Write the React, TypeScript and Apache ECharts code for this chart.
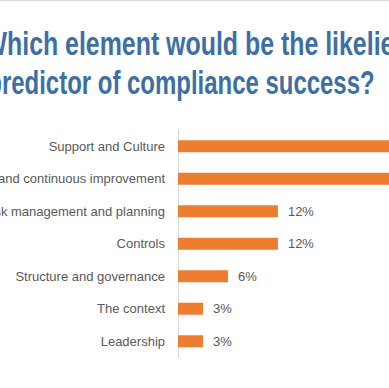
import React, { useEffect, useRef } from "react";
import * as echarts from "echarts";

const titleLines = ["Which element would be the likeliest", "predictor of compliance success?"];
const categories = [
  "Support and Culture",
  "Monitoring and continuous improvement",
  "Risk management and planning",
  "Controls",
  "Structure and governance",
  "The context",
  "Leadership",
];
const values = [35, 29, 12, 12, 6, 3, 3];

const OX = 60; // hidden margin on the left of the visible window
const INNER_W = 589;

export default function App() {
  const ref = useRef<HTMLDivElement>(null);
  useEffect(() => {
    if (!ref.current) return;
    const chart = echarts.init(ref.current, null, { renderer: "svg" });
    chart.setOption({
      animation: false,
      backgroundColor: "#ffffff",
      graphic: [
        {
          type: "line",
          shape: { x1: OX, y1: 0.5, x2: OX + 389, y2: 0.5 },
          style: { stroke: "#dcdcdc", lineWidth: 1.5 },
        },
        {
          type: "text",
          x: OX - 16.5,
          y: 43.6,
          scaleX: 0.755,
          style: {
            text: titleLines[0],
            fill: "#3D6FA6",
            fontSize: 33,
            fontWeight: "bold",
            fontFamily: "Liberation Sans",
            verticalAlign: "middle",
            align: "left",
          },
        },
        {
          type: "text",
          x: OX - 12.7,
          y: 82.6,
          scaleX: 0.726,
          style: {
            text: titleLines[1],
            fill: "#3D6FA6",
            fontSize: 33,
            fontWeight: "bold",
            fontFamily: "Liberation Sans",
            verticalAlign: "middle",
            align: "left",
          },
        },
      ],
      grid: {
        left: OX + 178,
        right: INNER_W - (OX + 178) - 333,
        top: 130,
        bottom: 30.5,
        containLabel: false,
        outerBoundsMode: "none",
      },
      xAxis: {
        type: "value",
        min: 0,
        max: 40,
        show: false,
        splitLine: { show: false },
      },
      yAxis: {
        type: "category",
        inverse: true,
        data: categories,
        axisTick: { show: false },
        axisLine: { show: true, lineStyle: { color: "#d9d9d9", width: 1 } },
        axisLabel: {
          color: "#595959",
          fontSize: 13,
          fontFamily: "Liberation Sans",
          margin: 13,
        },
      },
      series: [
        {
          type: "bar",
          data: values,
          barWidth: 12,
          itemStyle: { color: "#ED7D31" },
          label: {
            show: true,
            position: "right",
            distance: 10,
            formatter: "{c}%",
            color: "#595959",
            fontSize: 13,
            fontFamily: "Liberation Sans",
          },
        },
      ],
    });
    return () => chart.dispose();
  }, []);
  return (
    <div
      style={{
        position: "fixed",
        left: 0,
        top: 0,
        width: 389,
        height: 388,
        overflow: "hidden",
        background: "#fff",
      }}
    >
      <div
        ref={ref}
        style={{ position: "absolute", left: -OX, top: 0, width: INNER_W, height: 388 }}
      />
    </div>
  );
}
